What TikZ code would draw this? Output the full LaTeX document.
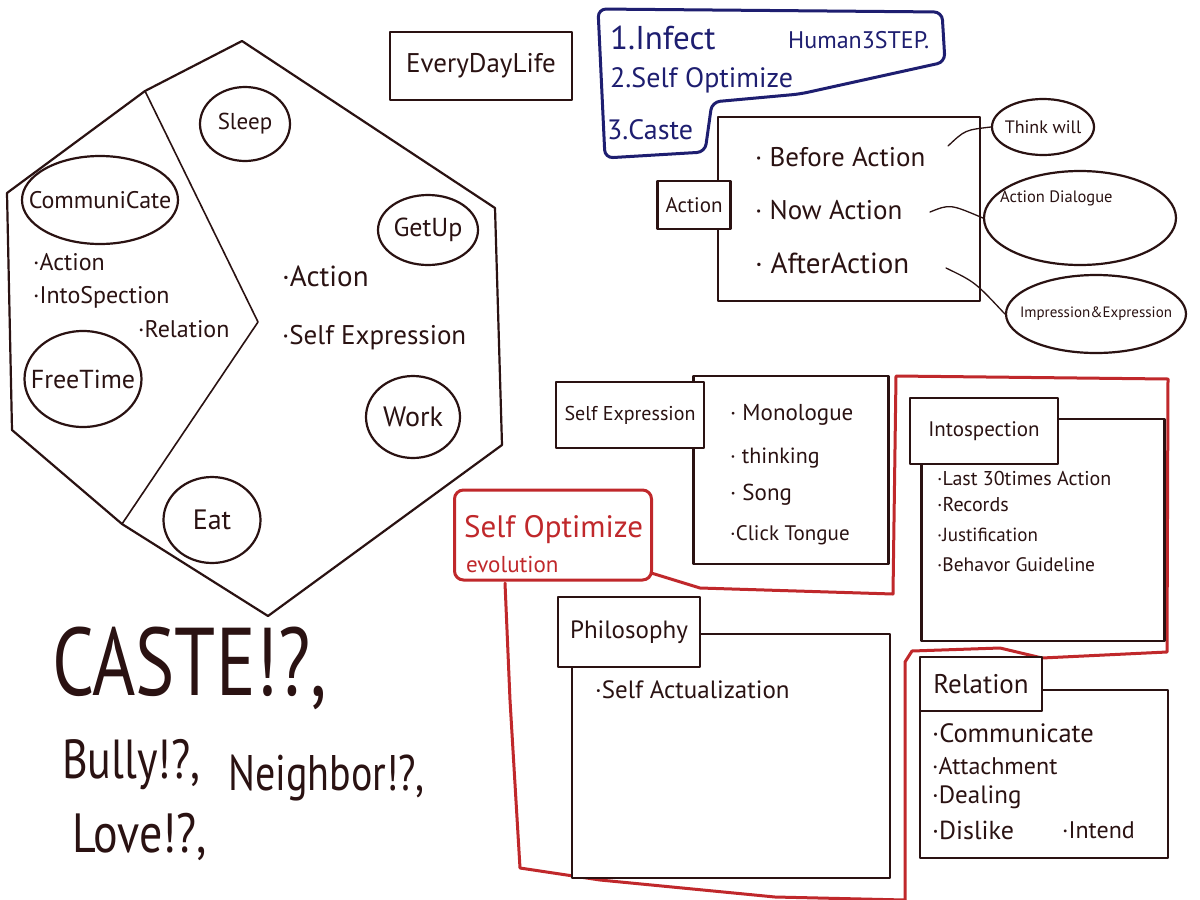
\documentclass[tikz,border=0pt]{standalone}
\usepackage{fontspec}
\setmainfont{PT Sans}
\usetikzlibrary{shapes.geometric}
\definecolor{ink}{HTML}{2A1212}
\definecolor{redink}{HTML}{C0282B}
\definecolor{blueink}{HTML}{1E1E70}
\tikzset{
  pen/.style={draw=ink, line width=2.2pt, line join=round, line cap=round},
  thinpen/.style={draw=ink, line width=1.3pt, line cap=round},
  redpen/.style={draw=redink, line width=3pt, line join=round, line cap=round},
  bluepen/.style={draw=blueink, line width=3pt, line join=round, line cap=round},
  bubble/.style={ellipse, pen, inner sep=0pt, text=ink},
  box/.style={rectangle, pen, fill=white, inner sep=0pt, text=ink},
  txt/.style={anchor=west, inner sep=0pt, text=ink},
  bluetxt/.style={anchor=west, inner sep=0pt, text=blueink},
  redtxt/.style={anchor=west, inner sep=0pt, text=redink},
  intext/.style={label={[text=ink, inner sep=0pt, font=\fs{#1}]center:\bubbletext}},
}
\newcommand{\fs}[1]{\fontsize{#1}{#1}\selectfont}
\begin{document}
\begin{tikzpicture}[x=1pt, y=-1pt]
\useasboundingbox (0,0) rectangle (1200,900);
\fill[white] (0,0) rectangle (1200,900);

% ---------- hexagon (Everyday life) ----------
\coordinate (hT) at (242,41);
\coordinate (hUL) at (7,193);
\coordinate (hLL) at (12,430);
\coordinate (hB) at (268,616);
\coordinate (hLR) at (502,445);
\coordinate (hUR) at (495,208);
\coordinate (dA) at (145,91);
\coordinate (dP) at (258,322);
\coordinate (dC) at (122,524);
\draw[pen] (hT) -- (hUR) -- (hLR) -- (hB) -- (dC) -- (hLL) -- (hUL) -- (dA) -- cycle;
\draw[pen, line width=1.6pt] (dA) -- (dP) -- (dC);

\node[bubble, minimum width=90pt, minimum height=74pt] (sleep) at (245,124) {};
\node[text=ink, inner sep=0pt, font=\fs{23}] (sleept) at (sleep.center) {Sleep};
\node[bubble, minimum width=156pt, minimum height=88pt] (comm) at (100,200) {};
\node[text=ink, inner sep=0pt, font=\fs{24}] (commt) at (comm.center) {CommuniCate};
\node[bubble, minimum width=100pt, minimum height=70pt] (getup) at (428,230) {};
\node[text=ink, inner sep=0pt, font=\fs{26}] (getupt) at (getup.center) {GetUp};
\node[bubble, minimum width=117pt, minimum height=96pt] (free) at (83,379) {};
\node[text=ink, inner sep=0pt, font=\fs{26}] (freet) at (free.center) {FreeTime};
\node[bubble, minimum width=94pt, minimum height=82pt] (work) at (413,417) {};
\node[text=ink, inner sep=0pt, font=\fs{28}] (workt) at (work.center) {Work};
\node[bubble, minimum width=97pt, minimum height=86pt] (eat) at (212,520) {};
\node[text=ink, inner sep=0pt, font=\fs{28}] (eatt) at (eat.center) {Eat};

\node[txt, font=\fs{24}] (lact) at (33,262) {·Action};
\node[txt, font=\fs{24}] (lint) at (33,297) {·IntoSpection};
\node[txt, font=\fs{24}] (lrel) at (138,329) {·Relation};
\node[txt, font=\fs{29}] (ract) at (282,276) {·Action};
\node[txt, font=\fs{27}] (rself) at (282,338) {·Self Expression};

% ---------- EveryDayLife ----------
\node[box, minimum width=182pt, minimum height=68pt, font=\fs{27}] (edl) at (481,66) {EveryDayLife};

% ---------- Human 3 step (blue) ----------
\draw[bluepen, rounded corners=8pt] (598,9) -- (942,12) -- (945,62) -- (800,94) -- (712,102) -- (705,152) -- (605,158) -- cycle;
\node[bluetxt, font=\fs{33}] (s1) at (610,38) {1.Infect};
\node[bluetxt, font=\fs{24}] (hum) at (788,40) {Human3STEP.};
\node[bluetxt, font=\fs{28}] (s2) at (610,80) {2.Self Optimize};
\node[bluetxt, font=\fs{28}] (s3) at (607,130) {3.Caste};

% ---------- Action ----------
\node[box, minimum width=262pt, minimum height=184pt] (actbox) at (849,209) {};
\node[box, minimum width=73pt, minimum height=48pt, font=\fs{21}] (actlab) at (694,205) {Action};
\node[txt, font=\fs{27}] (bef) at (755,157) {· Before Action};
\node[txt, font=\fs{27}] (now) at (755,210) {· Now Action};
\node[txt, font=\fs{29}] (aft) at (755,263) {· AfterAction};
\coordinate (befend) at (948,146);
\coordinate (nowend) at (930,212);
\coordinate (aftend) at (946,268);

\node[bubble, minimum width=102pt, minimum height=56pt] (think) at (1043,127) {};
\node[text=ink, inner sep=0pt, font=\fs{18}] (thinkt) at (think.center) {Think will};
\node[bubble, minimum width=192pt, minimum height=94pt] (dial) at (1080,218) {};
\node[txt, font=\fs{16.5}] (dialt) at (1000,198) {Action Dialogue};
\node[bubble, minimum width=180pt, minimum height=78pt] (imp) at (1096,314) {};
\node[text=ink, inner sep=0pt, font=\fs{15}] (impt) at (imp.center) {Impression\&Expression};

\draw[thinpen] (befend) .. controls (965,130) .. (think.west);
\draw[thinpen] (nowend) .. controls (950,204) .. (dial.west);
\draw[thinpen] (aftend) .. controls (975,282) .. (imp.west);

% ---------- red outline (Self Optimize) ----------
\draw[redpen] (648,572) -- (700,588) -- (893,594) -- (896,376) -- (1168,379) -- (1167,652) -- (1042,658) -- (1000,648) -- (912,651) -- (905,662) -- (905,900);
\draw[redpen] (505,583) -- (510,700) -- (520,868) -- (600,880) -- (775,897) -- (905,900);
\node[rectangle, redpen, rounded corners=9pt, fill=white, minimum width=197pt, minimum height=90pt] (so) at (553,535) {};
\node[redtxt, font=\fs{31}] (sot) at (464,530) {Self Optimize};
\node[redtxt, font=\fs{23}] (evo) at (466,564) {evolution};

% ---------- Self Expression ----------
\node[box, minimum width=195pt, minimum height=188pt] (sebox) at (791,470) {};
\node[box, minimum width=148pt, minimum height=66pt, font=\fs{20}] (selab) at (630,415) {Self Expression};
\node[txt, font=\fs{23}] (mono) at (730,415) {· Monologue};
\node[txt, font=\fs{22}] (thk) at (730,458) {· thinking};
\node[txt, font=\fs{23}] (song) at (730,495) {· Song};
\node[txt, font=\fs{21}] (click) at (730,535) {·Click Tongue};

% ---------- Introspection ----------
\node[box, minimum width=243pt, minimum height=222pt] (inbox) at (1043,530) {};
\node[box, minimum width=148pt, minimum height=66pt, font=\fs{21}] (inlab) at (984,431) {Intospection};
\node[txt, font=\fs{20}] (i1) at (937,478) {·Last 30times Action};
\node[txt, font=\fs{20}] (i2) at (937,505) {·Records};
\node[txt, font=\fs{19}] (i3) at (937,535) {·Justification};
\node[txt, font=\fs{19.5}] (i4) at (937,565) {·Behavor Guideline};

% ---------- Philosophy ----------
\node[box, minimum width=318pt, minimum height=244pt] (phbox) at (731,756) {};
\node[box, minimum width=142pt, minimum height=70pt, font=\fs{25}] (phlab) at (629,632) {Philosophy};
\node[txt, font=\fs{25}] (p1) at (595,690) {·Self Actualization};

% ---------- Relation ----------
\node[box, minimum width=248pt, minimum height=168pt] (relbox) at (1044,774) {};
\node[box, minimum width=122pt, minimum height=54pt, font=\fs{27}] (rellab) at (981,684) {Relation};
\node[txt, font=\fs{26.5}] (r1) at (932,733) {·Communicate};
\node[txt, font=\fs{24}] (r2) at (932,766) {·Attachment};
\node[txt, font=\fs{25}] (r3) at (932,797) {·Dealing};
\node[txt, font=\fs{26}] (r4) at (932,830) {·Dislike};
\node[txt, font=\fs{24}] (r5) at (1062,830) {·Intend};

% ---------- CASTE ----------
\node[txt, font=\fs{74}] (caste) at (52,668) {\scalebox{1}[1.3]{CASTE!?,}};
\node[txt, font=\fs{44}] (bully) at (62,765) {\scalebox{1}[1.25]{Bully!?,}};
\node[txt, font=\fs{40}] (neigh) at (228,778) {\scalebox{1}[1.25]{Neighbor!?,}};
\node[txt, font=\fs{46}] (love) at (72,837) {\scalebox{1}[1.2]{Love!?,}};
\end{tikzpicture}
\end{document}
